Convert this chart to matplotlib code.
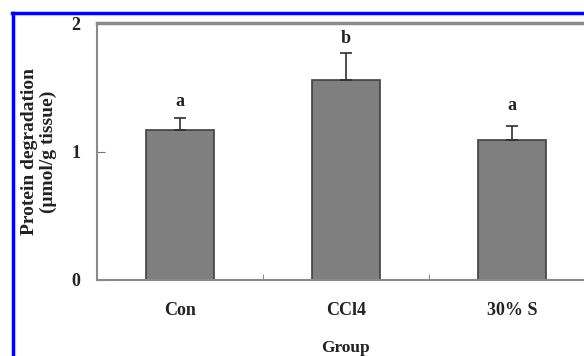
import matplotlib.pyplot as plt
from matplotlib.lines import Line2D

# data
groups = ['Con', 'CCl4', '30% S']
values = [1.17, 1.56, 1.09]
errors = [0.09, 0.21, 0.11]
letters = ['a', 'b', 'a']
letter_y = [1.39, 1.88, 1.36]

plt.rcParams['font.family'] = ['Liberation Serif', 'DejaVu Serif']
plt.rcParams['font.weight'] = 'bold'

fig = plt.figure(figsize=(5.84, 3.56), dpi=100)
W, H = 584, 356
# axes runs off the right edge like in the cropped original
ax = fig.add_axes([97 / W, 1 - 280 / H, 498 / W, 257 / H])

x = range(len(groups))
ax.bar(x, values, width=0.41, color='#7f7f7f', edgecolor='#404040', linewidth=1.2)
ax.errorbar(x, values, yerr=[[0] * 3, errors], fmt='none', ecolor='#303030',
            elinewidth=1.2, capsize=4, capthick=1.2)
for i, (t, y) in enumerate(zip(letters, letter_y)):
    ax.text(i, y, t, ha='center', va='center', fontsize=13, fontweight='bold', color='#222222')

ax.set_xlim(-0.5, 2.5)
ax.set_ylim(0, 2)
ax.set_yticks([0, 1, 2])
ax.set_xticks(list(x))
ax.set_xticklabels(groups)
ax.set_xticks([0.5, 1.5], minor=True)
ax.tick_params(axis='x', which='major', length=0, pad=16, labelsize=13, labelcolor='#222222')
ax.tick_params(axis='x', which='minor', direction='in', length=4, color='#777777')
ax.tick_params(axis='y', direction='in', length=6, pad=12, labelsize=13, labelcolor='#222222', color='#777777')
for s in ax.spines.values():
    s.set_color('#8a8a8a')
    s.set_linewidth(1.5)
ax.spines['top'].set_linewidth(2.5)

ax.set_xlabel('Group', fontsize=12.5, fontweight='bold', color='#222222')
ax.xaxis.set_label_coords(0.5, -60 / 257)
ax.set_ylabel('Protein degradation\n(\u03bcmol/g tissue)', fontsize=14, fontweight='bold',
              color='#222222', linespacing=1.15)
ax.yaxis.set_label_coords(-40 / 498, 0.5)

# blue frame from the original screenshot
fig.add_artist(Line2D([13 / W, 13 / W], [0, 1 - 13 / H], color='#0000ff', linewidth=2.5))
fig.add_artist(Line2D([12 / W, 1], [1 - 13 / H, 1 - 13 / H], color='#0000ff', linewidth=2.5))

fig.savefig('out.png', dpi=100)
